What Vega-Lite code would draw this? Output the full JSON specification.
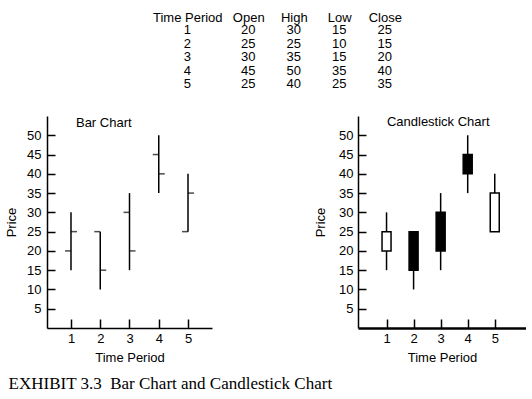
{
  "$schema": "https://vega.github.io/schema/vega-lite/v6.json",
  "padding": {"left": 5, "top": 11, "right": 0, "bottom": 5},
  "background": "white",
  "config": {
    "view": {"stroke": null},
    "font": "Liberation Sans",
    "axis": {"domainColor": "black", "tickColor": "black", "labelColor": "black", "titleColor": "black", "labelFont": "Liberation Sans", "titleFont": "Liberation Sans", "labelFontSize": 13, "titleFontSize": 13, "titleFontWeight": "normal", "grid": false, "domainWidth": 1.5, "tickWidth": 1.5, "labelOverlap": false},
    "title": {"font": "Liberation Sans", "fontSize": 13, "fontWeight": "normal", "color": "black"}
  },
  "data": {"values": [
    {"period": 1, "Open": 20, "High": 30, "Low": 15, "Close": 25},
    {"period": 2, "Open": 25, "High": 25, "Low": 10, "Close": 15},
    {"period": 3, "Open": 30, "High": 35, "Low": 15, "Close": 20},
    {"period": 4, "Open": 45, "High": 50, "Low": 35, "Close": 40},
    {"period": 5, "Open": 25, "High": 40, "Low": 25, "Close": 35}
  ]},
  "title": {"text": "EXHIBIT 3.3\u00a0 Bar Chart and Candlestick Chart", "orient": "bottom", "anchor": "start", "font": "Liberation Serif", "fontSize": 17, "fontWeight": "normal", "color": "black", "offset": 12, "dx": 3},
  "spacing": 24,
  "center": true,
  "vconcat": [
    {
      "width": 273, "height": 68,
      "encoding": {
        "y": {"field": "period", "type": "ordinal", "axis": null, "scale": {"type": "point", "padding": 0.519, "align": 0.521}}
      },
      "layer": [
        {
          "mark": {"type": "text", "fontSize": 13, "font": "Liberation Sans", "color": "black", "dx": -15.5},
          "encoding": {
            "x": {"datum": "Time Period", "type": "nominal", "scale": {"type": "point", "domain": ["Time Period", "Open", "High", "Low", "Close"], "padding": 1, "align": 0.58}, "axis": {"orient": "top", "title": null, "domain": false, "ticks": false, "labelAngle": 0, "labelPadding": 6, "labelBaseline": "middle", "labelFontSize": 13, "labelOverlap": false, "labelOffset": {"condition": {"test": "datum.value === 'Time Period'", "value": -15.5}, "value": 0}}},
            "text": {"field": "period"}
          }
        },
        {
          "transform": [{"fold": ["Open", "High", "Low", "Close"], "as": ["key", "value"]}],
          "mark": {"type": "text", "fontSize": 13, "font": "Liberation Sans", "color": "black"},
          "encoding": {
            "x": {"field": "key", "type": "nominal"},
            "text": {"field": "value", "type": "quantitative"}
          }
        }
      ]
    },
    {
      "spacing": 102,
      "hconcat": [
        {
          "width": 165, "height": 212,
          "layer": [
            {
              "mark": {"type": "rule", "color": "black", "strokeWidth": 1.5},
              "encoding": {
                "x": {"field": "period", "type": "quantitative", "scale": {"domain": [0.18, 5.82], "nice": false, "zero": false}, "axis": {"values": [1, 2, 3, 4, 5], "format": "d", "tickSize": -9, "labelPadding": 13, "title": "Time Period", "titlePadding": 6, "labelFlush": false}},
                "y": {"field": "Low", "type": "quantitative", "title": "Price", "scale": {"domain": [0, 55], "nice": false}, "axis": {"values": [5, 10, 15, 20, 25, 30, 35, 40, 45, 50], "tickCount": 12, "tickSize": -8, "labelPadding": 14, "titlePadding": 8, "labelOverlap": false}},
                "y2": {"field": "High"}
              }
            },
            {
              "mark": {"type": "tick", "orient": "horizontal", "xOffset": -3, "size": 6, "thickness": 1.5, "color": "black"},
              "encoding": {"x": {"field": "period", "type": "quantitative"}, "y": {"field": "Open", "type": "quantitative", "title": "Price"}}
            },
            {
              "mark": {"type": "tick", "orient": "horizontal", "xOffset": 3, "size": 6, "thickness": 1.5, "color": "black"},
              "encoding": {"x": {"field": "period", "type": "quantitative"}, "y": {"field": "Close", "type": "quantitative", "title": "Price"}}
            },
            {
              "transform": [{"filter": "datum.period == 1"}],
              "mark": {"type": "text", "text": "Bar Chart", "align": "left", "baseline": "alphabetic", "fontSize": 13, "font": "Liberation Sans", "color": "black"},
              "encoding": {"x": {"datum": 1.17, "type": "quantitative"}, "y": {"datum": 52.1, "type": "quantitative"}}
            }
          ]
        },
        {
          "width": 168, "height": 212,
          "layer": [
            {
              "mark": {"type": "rule", "color": "black", "strokeWidth": 1.5},
              "encoding": {
                "x": {"field": "period", "type": "quantitative", "scale": {"domain": [0.13, 5.97], "nice": false, "zero": false}, "axis": {"values": [1, 2, 3, 4, 5], "format": "d", "tickSize": -9, "labelPadding": 13, "title": "Time Period", "titlePadding": 6, "labelFlush": false, "domainWidth": 2.5}},
                "y": {"field": "Low", "type": "quantitative", "title": "Price", "scale": {"domain": [0, 55], "nice": false}, "axis": {"values": [5, 10, 15, 20, 25, 30, 35, 40, 45, 50], "tickCount": 12, "tickSize": -8, "labelPadding": 13, "titlePadding": 11, "labelOverlap": false}},
                "y2": {"field": "High"}
              }
            },
            {
              "mark": {"type": "bar", "size": 9, "stroke": "black", "strokeWidth": 1.5},
              "encoding": {
                "x": {"field": "period", "type": "quantitative"},
                "y": {"field": "Open", "type": "quantitative", "title": "Price"},
                "y2": {"field": "Close"},
                "fill": {"condition": {"test": "datum.Close > datum.Open", "value": "white"}, "value": "black"}
              }
            },
            {
              "transform": [{"filter": "datum.period == 1"}],
              "mark": {"type": "text", "text": "Candlestick Chart", "align": "center", "baseline": "alphabetic", "fontSize": 13, "font": "Liberation Sans", "color": "black"},
              "encoding": {"x": {"datum": 2.91, "type": "quantitative"}, "y": {"datum": 52.3, "type": "quantitative"}}
            }
          ]
        }
      ]
    }
  ]
}
